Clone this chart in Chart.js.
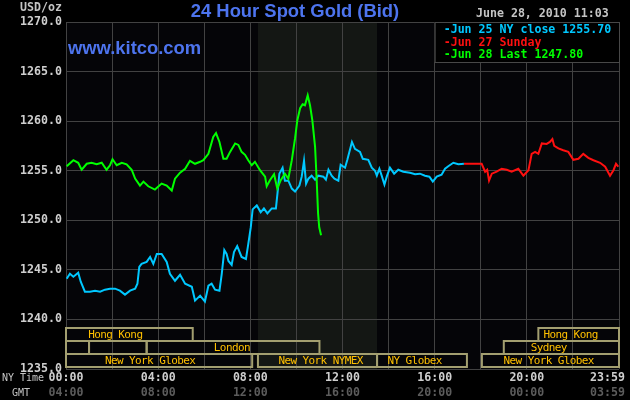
<!DOCTYPE html>
<html>
<head>
<meta charset="utf-8">
<title>24 Hour Spot Gold (Bid)</title>
<script src="https://cdn.jsdelivr.net/npm/chart.js@4.4.1/dist/chart.umd.min.js"></script>
<style>
    html, body { margin: 0; padding: 0; background: #000; }
    #wrap { width: 630px; height: 400px; }
</style>
</head>
<body>
<div id="wrap"><canvas id="goldChart"></canvas></div>
<script>
"use strict"

// ось X: часы по Нью-Йорку
const tickHours = [0, 4, 8, 12, 16, 20, 24];
const nyTimeLabels = ['00:00', '04:00', '08:00', '12:00', '16:00', '20:00', '23:59'];
const gmtLabels = ['04:00', '08:00', '12:00', '16:00', '20:00', '00:00', '03:59'];

// Jun 25 NY close
const jun25Hours = [0.03, 0.17, 0.32, 0.53, 0.64, 0.82, 1.04, 1.26, 1.48, 1.69, 1.91, 2.13, 2.34, 2.56, 2.78,
    3.0, 3.1, 3.18, 3.28, 3.5, 3.65, 3.79, 3.94, 4.15, 4.37, 4.51, 4.73, 4.95, 5.17, 5.46, 5.6, 5.82,
    6.03, 6.18, 6.32, 6.47, 6.66, 6.76, 6.87, 6.97, 7.05, 7.19, 7.29, 7.43, 7.62, 7.81, 7.91,
    8.02, 8.1, 8.28, 8.45, 8.59, 8.74, 8.93, 9.11, 9.19, 9.26, 9.4, 9.5, 9.65, 9.8, 9.94,
    10.13, 10.23, 10.33, 10.42, 10.52, 10.66, 10.81, 10.95, 11.17, 11.28, 11.39, 11.53, 11.65, 11.82, 11.92,
    12.11, 12.21, 12.41, 12.54, 12.76, 12.88, 13.12, 13.27, 13.41, 13.49, 13.6, 13.7, 13.82, 13.92,
    14.06, 14.24, 14.42, 14.64, 14.93, 15.15, 15.36, 15.58, 15.77, 15.92,
    16.09, 16.3, 16.45, 16.59, 16.81, 17.03, 17.27];
const jun25Values = [1244.1, 1244.6, 1244.3, 1244.7, 1243.8, 1242.8, 1242.8, 1242.9, 1242.8, 1243.0, 1243.1, 1243.1, 1242.9, 1242.5, 1242.9,
    1243.1, 1243.6, 1245.3, 1245.6, 1245.8, 1246.3, 1245.6, 1246.6, 1246.6, 1245.8, 1244.6, 1243.9, 1244.5, 1243.6, 1243.3, 1241.9, 1242.4,
    1241.8, 1243.4, 1243.6, 1243.0, 1242.9, 1244.6, 1247.0, 1246.6, 1245.9, 1245.5, 1246.8, 1247.4, 1246.3, 1246.1, 1247.6,
    1249.3, 1251.1, 1251.5, 1250.8, 1251.2, 1250.7, 1251.2, 1251.2, 1253.0, 1254.7, 1255.3, 1254.0, 1254.0, 1253.2, 1252.9,
    1253.5, 1254.4, 1256.0, 1253.7, 1254.2, 1254.5, 1254.1, 1254.5, 1254.4, 1254.1, 1255.1, 1254.5, 1254.2, 1254.0, 1255.6,
    1255.3, 1256.1, 1257.9, 1257.2, 1256.9, 1256.2, 1256.1, 1255.3, 1255.0, 1254.5, 1255.2, 1254.5, 1253.6, 1254.4,
    1255.3, 1254.7, 1255.1, 1254.9, 1254.8, 1254.65, 1254.7, 1254.5, 1254.4, 1253.9,
    1254.4, 1254.6, 1255.2, 1255.45, 1255.8, 1255.65, 1255.7];

// Jun 27 Sunday
const jun27Hours = [17.27, 18.04, 18.19, 18.28, 18.36, 18.48, 18.69, 18.91, 19.13, 19.34, 19.63, 19.85, 20.07, 20.21, 20.36,
    20.5, 20.65, 20.86, 21.0, 21.11, 21.19, 21.37, 21.58, 21.8, 22.02, 22.24, 22.45, 22.67, 22.89, 23.18,
    23.4, 23.61, 23.76, 23.87, 23.97];
const jun27Values = [1255.7, 1255.7, 1254.9, 1255.1, 1254.0, 1254.7, 1254.9, 1255.2, 1255.1, 1254.9, 1255.2, 1254.5, 1255.05, 1256.7, 1256.9,
    1256.7, 1257.75, 1257.7, 1257.9, 1258.2, 1257.5, 1257.25, 1257.07, 1256.9, 1256.1, 1256.2, 1256.7, 1256.3, 1256.06, 1255.8,
    1255.4, 1254.5, 1255.05, 1255.7, 1255.4];

// Jun 28 Last
const jun28Hours = [0.03, 0.32, 0.53, 0.68, 0.9, 1.11, 1.33, 1.55, 1.76, 1.91, 2.02, 2.2, 2.42, 2.63, 2.85,
    3.0, 3.21, 3.36, 3.57, 3.86, 4.15, 4.37, 4.59, 4.73, 4.95, 5.17, 5.38, 5.6, 5.82, 5.96,
    6.18, 6.39, 6.51, 6.66, 6.83, 6.97, 7.12, 7.34, 7.48, 7.62, 7.77, 7.91, 8.06, 8.2, 8.42,
    8.64, 8.71, 8.85, 9.03, 9.17, 9.32, 9.5, 9.65, 9.8, 9.94, 10.04, 10.16, 10.27, 10.37, 10.49,
    10.59, 10.69, 10.81, 10.88, 10.94, 10.99, 11.07];
const jun28Values = [1255.45, 1256.06, 1255.8, 1255.1, 1255.7, 1255.8, 1255.65, 1255.8, 1255.1, 1255.55, 1256.16, 1255.55, 1255.8, 1255.65, 1255.1,
    1254.2, 1253.5, 1253.9, 1253.43, 1253.1, 1253.7, 1253.5, 1253.0, 1254.2, 1254.8, 1255.2, 1256.0, 1255.7, 1255.9, 1256.06,
    1256.7, 1258.4, 1258.8, 1257.9, 1256.2, 1256.2, 1256.9, 1257.75, 1257.6, 1256.9, 1256.6, 1256.06, 1255.55, 1255.9, 1255.05,
    1254.4, 1253.43, 1254.04, 1254.65, 1253.2, 1254.04, 1254.7, 1254.2, 1256.06, 1258.25, 1260.1, 1261.3, 1261.7, 1261.6, 1262.6,
    1261.6, 1260.1, 1257.4, 1254.04, 1250.7, 1249.3, 1248.5];

const seriesLabels = ['Jun 25 NY close 1255.70', 'Jun 27 Sunday', 'Jun 28 Last 1247.80'];
const seriesColors = ['#00c8ff', '#ff1010', '#00ff00'];

// торговые сессии: ряд, начало, конец, подпись, центр подписи (часы)
const sessionRows = [0, 0, 1, 1, 1, 1, 2, 2, 2, 2];
const sessionFrom = [0, 20.5, 0, 1, 3.5, 19, 0, 8.33, 13.5, 18.05];
const sessionTo = [5.5, 24, 1, 3.5, 11, 24, 8.08, 13.5, 17.4, 24];
const sessionNames = ['Hong Kong', 'Hong Kong', '', '', 'London', 'Sydney', 'New York Globex', 'New York NYMEX', 'NY Globex', 'New York Globex'];
const sessionLabelAt = [2.14, 21.9, 0, 0, 7.2, 20.95, 3.65, 11.05, 15.13, 20.95];

const nymexFrom = 8.33;
const nymexTo = 13.5;

function toPoints(hours, values) {
    return hours.map((h, i) => ({ x: h, y: values[i] }));
}

const mono = '"DejaVu Sans Mono", "Liberation Mono", monospace';

const kitcoDecor = {
    id: 'kitcoDecor',
    beforeDraw(chart) {
        const ctx = chart.ctx;
        const area = chart.chartArea;
        const x = chart.scales.x;
        ctx.save();
        ctx.fillStyle = '#000';
        ctx.fillRect(0, 0, chart.width, chart.height);
        ctx.fillStyle = '#050508';
        ctx.fillRect(area.left, area.top, area.right - area.left, area.bottom - area.top);
        const b1 = x.getPixelForValue(nymexFrom);
        const b2 = x.getPixelForValue(nymexTo);
        ctx.fillStyle = '#141714';
        ctx.fillRect(b1, area.top, b2 - b1, area.bottom - area.top);
        ctx.restore();
    },
    afterDraw(chart) {
        const ctx = chart.ctx;
        const area = chart.chartArea;
        const x = chart.scales.x;
        ctx.save();

        // сессии
        ctx.lineWidth = 2;
        ctx.strokeStyle = '#a39f70';
        ctx.font = '11px ' + mono;
        ctx.letterSpacing = '-0.6px';
        ctx.textAlign = 'center';
        ctx.textBaseline = 'middle';
        for (let i = 0; i < sessionRows.length; i++) {
            const top = area.bottom - 41 + sessionRows[i] * 13;
            const x1 = x.getPixelForValue(sessionFrom[i]);
            const x2 = x.getPixelForValue(sessionTo[i]);
            ctx.strokeRect(x1, top, x2 - x1, 13);
            if (sessionNames[i]) {
                ctx.fillStyle = '#ffc000';
                ctx.fillText(sessionNames[i], x.getPixelForValue(sessionLabelAt[i]), top + 7);
            }
        }
        ctx.letterSpacing = '0px';

        // легенда
        const lx = x.getPixelForValue(16);
        ctx.fillStyle = '#000';
        ctx.fillRect(lx, area.top, area.right - lx, 40);
        ctx.lineWidth = 1;
        ctx.strokeStyle = '#484848';
        ctx.strokeRect(lx + 0.5, area.top + 0.5, area.right - lx, 40);
        ctx.font = 'bold 11.6px ' + mono;
        ctx.textAlign = 'left';
        for (let i = 0; i < seriesLabels.length; i++) {
            ctx.fillStyle = seriesColors[i];
            ctx.fillText('-' + seriesLabels[i], lx + 9, area.top + 8 + i * 12.5);
        }

        // заголовки
        ctx.fillStyle = '#4d74ee';
        ctx.font = 'bold 18.4px "Liberation Sans", Arial, sans-serif';
        ctx.textAlign = 'center';
        ctx.fillText('24 Hour Spot Gold (Bid)', 295, 12);
        ctx.textAlign = 'left';
        ctx.fillText('www.kitco.com', 68, 49);

        ctx.font = 'bold 11.6px ' + mono;
        ctx.fillStyle = '#c4c4c4';
        ctx.fillText('June 28, 2010 11:03', 476, 14);
        ctx.fillText('USD/oz', 20, 8);

        // подписи времени
        for (let i = 0; i < tickHours.length; i++) {
            let px = x.getPixelForValue(tickHours[i]);
            ctx.textAlign = 'center';
            if (i === tickHours.length - 1) {
                ctx.textAlign = 'right';
                px = chart.width - 5;
            }
            ctx.fillStyle = '#cfcfcf';
            ctx.fillText(nyTimeLabels[i], px, area.bottom + 9);
            ctx.fillStyle = '#5c5c5c';
            ctx.fillText(gmtLabels[i], px, area.bottom + 24);
        }
        ctx.font = '10px ' + mono;
        ctx.fillStyle = '#c4c4c4';
        ctx.textAlign = 'left';
        ctx.fillText('NY Time', 2, area.bottom + 9);
        ctx.fillText('GMT', 12, area.bottom + 24);

        ctx.restore();
    }
};

const ctx = document.getElementById('goldChart');

const goldChart = new Chart(ctx, {
    type: 'line',
    data: {
        datasets: [
            { label: seriesLabels[0], data: toPoints(jun25Hours, jun25Values), borderColor: seriesColors[0], order: 2 },
            { label: seriesLabels[1], data: toPoints(jun27Hours, jun27Values), borderColor: seriesColors[1], order: 1 },
            { label: seriesLabels[2], data: toPoints(jun28Hours, jun28Values), borderColor: seriesColors[2], order: 0 }
        ]
    },
    options: {
        responsive: true,
        maintainAspectRatio: false,
        animation: false,
        layout: { padding: { top: 22, right: 11, left: 0, bottom: 0 } },
        elements: {
            point: { radius: 0 },
            line: { borderWidth: 2, tension: 0 }
        },
        plugins: {
            legend: { display: false },
            tooltip: { enabled: false }
        },
        scales: {
            x: {
                type: 'linear',
                min: 0,
                max: 24,
                afterFit: (scale) => { scale.height = 31; },
                ticks: { stepSize: 2, display: false },
                grid: { color: '#424242', lineWidth: 1, drawTicks: false },
                border: { display: false }
            },
            y: {
                min: 1235,
                max: 1270,
                afterFit: (scale) => { scale.width = 66; },
                ticks: {
                    stepSize: 5,
                    padding: 4,
                    color: '#cfcfcf',
                    font: { family: mono, size: 11.6, weight: 'bold' },
                    callback: (v) => v.toFixed(1)
                },
                grid: { color: '#424242', lineWidth: 1, drawTicks: false },
                border: { display: false }
            }
        }
    },
    plugins: [kitcoDecor]
});
</script>
</body>
</html>
